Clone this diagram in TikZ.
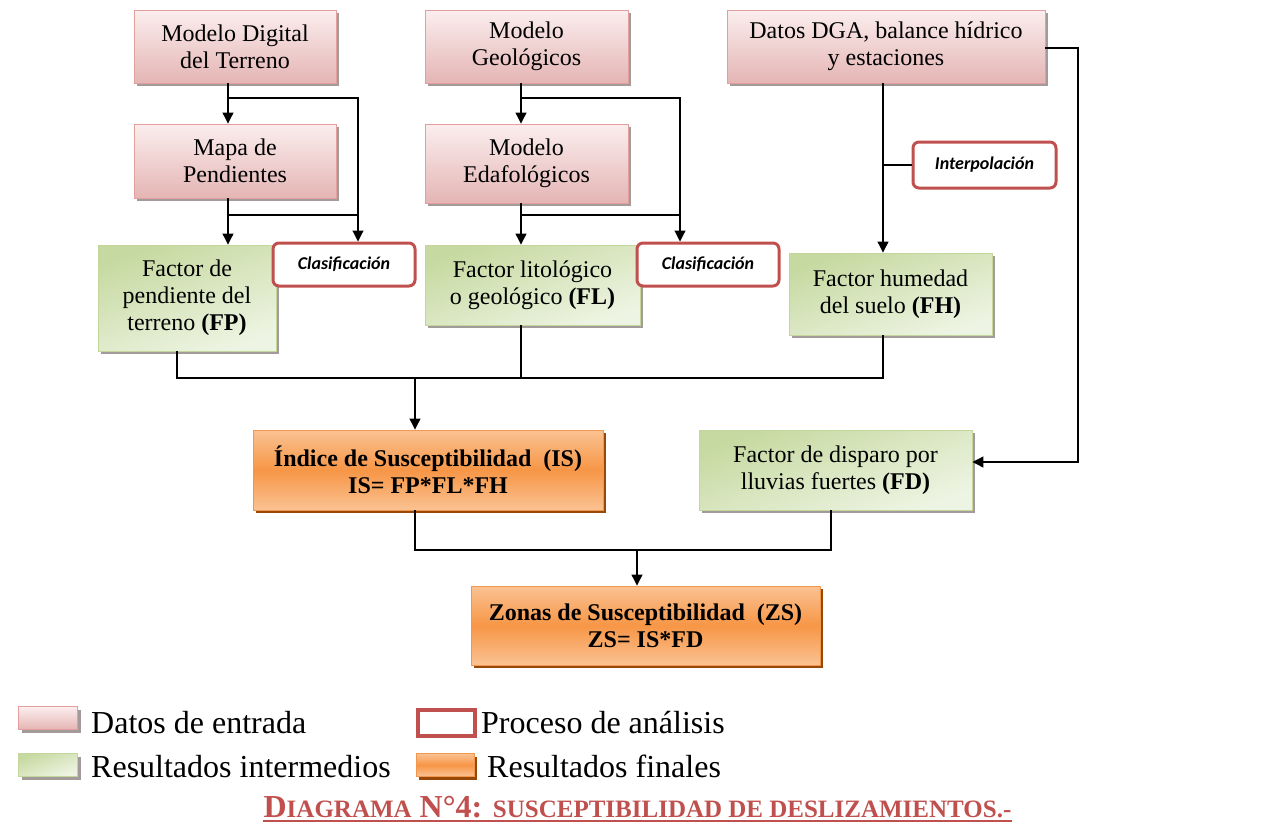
\documentclass[tikz,border=0pt]{standalone}
\usepackage{fontspec}
\setmainfont{Liberation Serif}
\newfontfamily\procfont{Carlito}
\usetikzlibrary{arrows.meta,shadows,calc}

\definecolor{inTop}{HTML}{FBEEEE}
\definecolor{inBot}{HTML}{E4B5B4}
\definecolor{inLine}{HTML}{E29F9E}
\definecolor{midDark}{HTML}{C6D9A0}
\definecolor{midLight}{HTML}{EEF4E3}
\definecolor{midLine}{HTML}{C3D69B}
\definecolor{finLight}{HTML}{FAC293}
\definecolor{finMid}{HTML}{F79646}
\definecolor{finLine}{HTML}{F2984E}
\definecolor{finShadow}{HTML}{984807}
\definecolor{procRed}{HTML}{C0504D}
\definecolor{boxShadow}{HTML}{A39A9A}

\begin{document}
\begin{tikzpicture}[x=1pt,y=-1pt,
  boxtext/.style={align=center, inner sep=2pt,
    font=\fontsize{24}{27}\selectfont},
  inputbox/.style={boxtext, draw=inLine, line width=0.9pt,
    top color=inTop, bottom color=inBot,
    general shadow={fill=boxShadow, shadow xshift=3pt, shadow yshift=-3pt}},
  midbox/.style={boxtext, draw=midLine, line width=0.9pt,
    top color=midDark, bottom color=midLight, shading angle=20,
    general shadow={fill=boxShadow, shadow xshift=3pt, shadow yshift=-3pt}},
  finalbox/.style={boxtext, draw=finLine, line width=0.9pt,
    top color=finLight, bottom color=finLight, middle color=finMid,
    general shadow={fill=finShadow, shadow xshift=3pt, shadow yshift=-3pt},
    font=\fontsize{24}{27}\selectfont\bfseries},
  procbox/.style={draw=procRed, line width=3pt, fill=white,
    rounded corners=6pt, inner sep=0pt,
    font=\fontsize{18}{20}\selectfont\procfont\bfseries\itshape},
  link/.style={line width=1.1pt, black},
  arr/.style={link, -{Triangle[width=11pt,length=11pt]}},
  legtext/.style={anchor=base west, inner sep=0pt,
    font=\fontsize{32}{36}\selectfont}
]
\useasboundingbox (0,0) rectangle (1279,823);

% connector columns and rows
\coordinate (c1) at (228,0);
\coordinate (k1) at (358,0);
\coordinate (c2) at (521,0);
\coordinate (k2) at (680,0);
\coordinate (c3) at (883,0);
\coordinate (rr) at (1078,0);
\coordinate (m1) at (177,0);
\coordinate (m2) at (415,0);
\coordinate (m3) at (831,0);
\coordinate (m4) at (637,0);
\coordinate (r1) at (0,98);
\coordinate (r2) at (0,215);
\coordinate (rm) at (0,378);
\coordinate (rz) at (0,550);
\coordinate (rd) at (0,462);
\coordinate (rt) at (0,48);

% input data
\node[inputbox, minimum width=202pt, minimum height=73pt] (mdt) at (235,46.5)
  {Modelo Digital\\del Terreno};
\node[inputbox, minimum width=202pt, minimum height=74pt] (mapa) at (235,161)
  {Mapa de\\Pendientes};
\node[inputbox, minimum width=203pt, minimum height=73pt] (geo) at (526.5,46.5)
  {Modelo\\Geológicos};
\node[inputbox, minimum width=203pt, minimum height=79pt] (eda) at (526.5,163.5)
  {Modelo\\Edafológicos};
\node[inputbox, minimum width=318pt, minimum height=73pt] (dga) at (886,46.5)
  {Datos DGA, balance hídrico\\y estaciones};

% intermediate results
\node[midbox, minimum width=178pt, minimum height=106pt] (fp) at (187,298)
  {Factor de\\pendiente del\\terreno \textbf{(FP)}};
\node[midbox, minimum width=215pt, minimum height=80pt] (fl) at (532.5,285)
  {Factor litológico\\o geológico \textbf{(FL)}};
\node[midbox, minimum width=203pt, minimum height=82pt] (fh) at (890.5,294)
  {Factor humedad\\del suelo \textbf{(FH)}};
\node[midbox, minimum width=273pt, minimum height=80pt] (fd) at (835.5,470)
  {Factor de disparo por\\lluvias fuertes \textbf{(FD)}};

% analysis processes
\node[procbox, minimum width=142pt, minimum height=43pt] (cl1) at (344,264.5)
  {Clasificación};
\node[procbox, minimum width=142pt, minimum height=43pt] (cl2) at (708,264.5)
  {Clasificación};
\node[procbox, minimum width=143pt, minimum height=46pt] (interp) at (984.5,165)
  {Interpolación};

% final results
\node[finalbox, minimum width=350pt, minimum height=80pt] (is) at (428,470)
  {Índice de Susceptibilidad\ \ (IS)\\IS= FP*FL*FH};
\node[finalbox, minimum width=349pt, minimum height=79pt] (zs) at (645.5,625.5)
  {Zonas de Susceptibilidad\ \ (ZS)\\ZS= IS*FD};

% slope branch
\draw[arr] (mdt.south -| c1) -- (mapa.north -| c1);
\draw[arr] (c1 |- r1) -| (cl1.north -| k1);
\draw[arr] (mapa.south -| c1) -- (fp.north -| c1);
\draw[link] (c1 |- r2) -- (k1 |- r2);

% geology branch
\draw[arr] (geo.south -| c2) -- (eda.north -| c2);
\draw[arr] (c2 |- r1) -| (cl2.north -| k2);
\draw[arr] (eda.south -| c2) -- (fl.north -| c2);
\draw[link] (c2 |- r2) -- (k2 |- r2);

% moisture branch
\draw[arr] (dga.south -| c3) -- (fh.north -| c3);
\draw[link] (c3 |- interp.west) -- (interp.west);
\draw[arr] (dga.east |- rt) -| (rr |- rd) -- (fd.east |- rd);

% susceptibility index
\draw[link] (fp.south -| m1) |- (c3 |- rm) -- (fh.south -| c3);
\draw[link] (fl.south -| c2) -- (c2 |- rm);
\draw[arr] (m2 |- rm) -- (is.north -| m2);

% susceptibility zones
\draw[link] (is.south -| m2) |- (m3 |- rz) -- (fd.south -| m3);
\draw[arr] (m4 |- rz) -- (zs.north -| m4);

% legend
\node[inputbox, minimum width=59pt, minimum height=23pt, inner sep=0pt] (lgin) at (48,718) {};
\node[legtext] (lgintext) at (91,733) {Datos de entrada};
\node[draw=procRed, line width=4.5pt, fill=white, minimum width=57pt,
  minimum height=26pt, inner sep=0pt] (lgproc) at (446.5,723) {};
\node[legtext] (lgproctext) at (481,733) {Proceso de análisis};
\node[midbox, minimum width=59pt, minimum height=23pt, inner sep=0pt] (lgmid) at (48,765) {};
\node[legtext] (lgmidtext) at (91,777) {Resultados intermedios};
\node[finalbox, minimum width=58pt, minimum height=23pt, inner sep=0pt] (lgfin) at (445,765) {};
\node[legtext] (lgfintext) at (487,777) {Resultados finales};

% caption
\node[anchor=base, inner sep=0pt, text=procRed,
  font=\fontsize{32}{36}\selectfont\bfseries] (title) at (637.5,817)
  {D{\fontsize{25}{30}\selectfont IAGRAMA} N°4: {\fontsize{25}{30}\selectfont SUSCEPTIBILIDAD DE DESLIZAMIENTOS.-}};
\draw[procRed, line width=1.5pt] ($(title.base west)+(0,4)$) -- ($(title.base east)+(0,4)$);
\end{tikzpicture}
\end{document}
